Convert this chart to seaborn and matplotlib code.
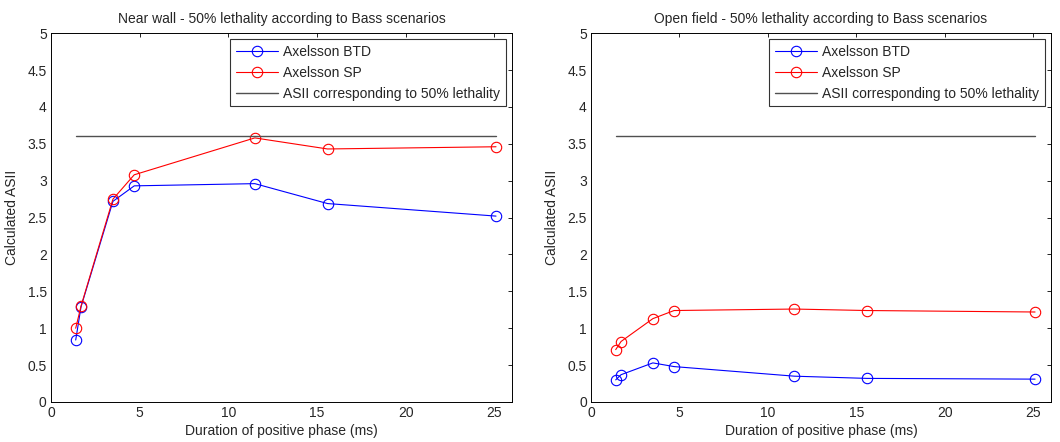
import seaborn as sns
import matplotlib.pyplot as plt
import numpy as np
import pandas as pd

duration = [1.4, 1.7, 3.5, 4.7, 11.5, 15.6, 25.1]
lethal_asii = 3.6

near_btd = [0.84, 1.29, 2.72, 2.93, 2.96, 2.69, 2.52]
near_sp = [1.00, 1.30, 2.75, 3.08, 3.58, 3.43, 3.46]
open_btd = [0.30, 0.37, 0.53, 0.48, 0.35, 0.32, 0.31]
open_sp = [0.71, 0.82, 1.13, 1.24, 1.26, 1.24, 1.22]

titles = ['Near wall - 50% lethality according to Bass scenarios',
          'Open field - 50% lethality according to Bass scenarios']
yticks = [0, 0.5, 1, 1.5, 2, 2.5, 3, 3.5, 4, 4.5, 5]
ytick_labels = ['0', '0.5', '1', '1.5', '2', '2.5', '3', '3.5', '4', '4.5', '5']

sns.set_style('white', {'xtick.direction': 'in', 'ytick.direction': 'in'})
plt.rcParams['font.family'] = ['Liberation Sans', 'DejaVu Sans']
plt.rcParams['font.size'] = 10


def plot_panel(ax, btd, sp, title):
    df = pd.DataFrame({'x': duration, 'btd': btd, 'sp': sp})
    sns.lineplot(data=df, x='x', y='btd', ax=ax, color='blue', lw=0.8,
                 marker='o', markersize=7.5, markerfacecolor='none',
                 markeredgecolor='blue', markeredgewidth=0.8,
                 label='Axelsson BTD')
    sns.lineplot(data=df, x='x', y='sp', ax=ax, color='red', lw=0.8,
                 marker='o', markersize=7.5, markerfacecolor='none',
                 markeredgecolor='red', markeredgewidth=0.8,
                 label='Axelsson SP')
    ref = pd.DataFrame({'x': [duration[0], duration[-1]],
                        'y': [lethal_asii, lethal_asii]})
    sns.lineplot(data=ref, x='x', y='y', ax=ax, color='#505050', lw=1.0,
                 label='ASII corresponding to 50% lethality')

    ax.set_xlim(0, 26)
    ax.set_ylim(0, 5)
    ax.set_xticks([0, 5, 10, 15, 20, 25])
    ax.set_yticks(yticks)
    ax.set_yticklabels(ytick_labels)
    ax.tick_params(top=True, right=True, length=3, width=0.6,
                   labelsize=10, pad=3, color='black')
    for s in ax.spines.values():
        s.set_color('black')
        s.set_linewidth(0.7)
    ax.set_title(title, fontsize=10, pad=7)
    ax.set_xlabel('Duration of positive phase (ms)', fontsize=10, labelpad=3)
    ax.set_ylabel('Calculated ASII', fontsize=10, labelpad=6)
    leg = ax.legend(loc='upper right', fontsize=10, frameon=True,
                    fancybox=False, borderaxespad=0.45, handlelength=3.0,
                    handletextpad=0.4, labelspacing=0.5, borderpad=0.4)
    leg.get_frame().set_edgecolor('black')
    leg.get_frame().set_linewidth(0.8)


fig = plt.figure(figsize=(10.6, 4.42), dpi=100)
ax1 = fig.add_axes([0.048, 0.0905, 0.435, 0.8345])
ax2 = fig.add_axes([0.5575, 0.0905, 0.434, 0.8345])

plot_panel(ax1, near_btd, near_sp, titles[0])
plot_panel(ax2, open_btd, open_sp, titles[1])

fig.savefig('out.png', dpi=100)
